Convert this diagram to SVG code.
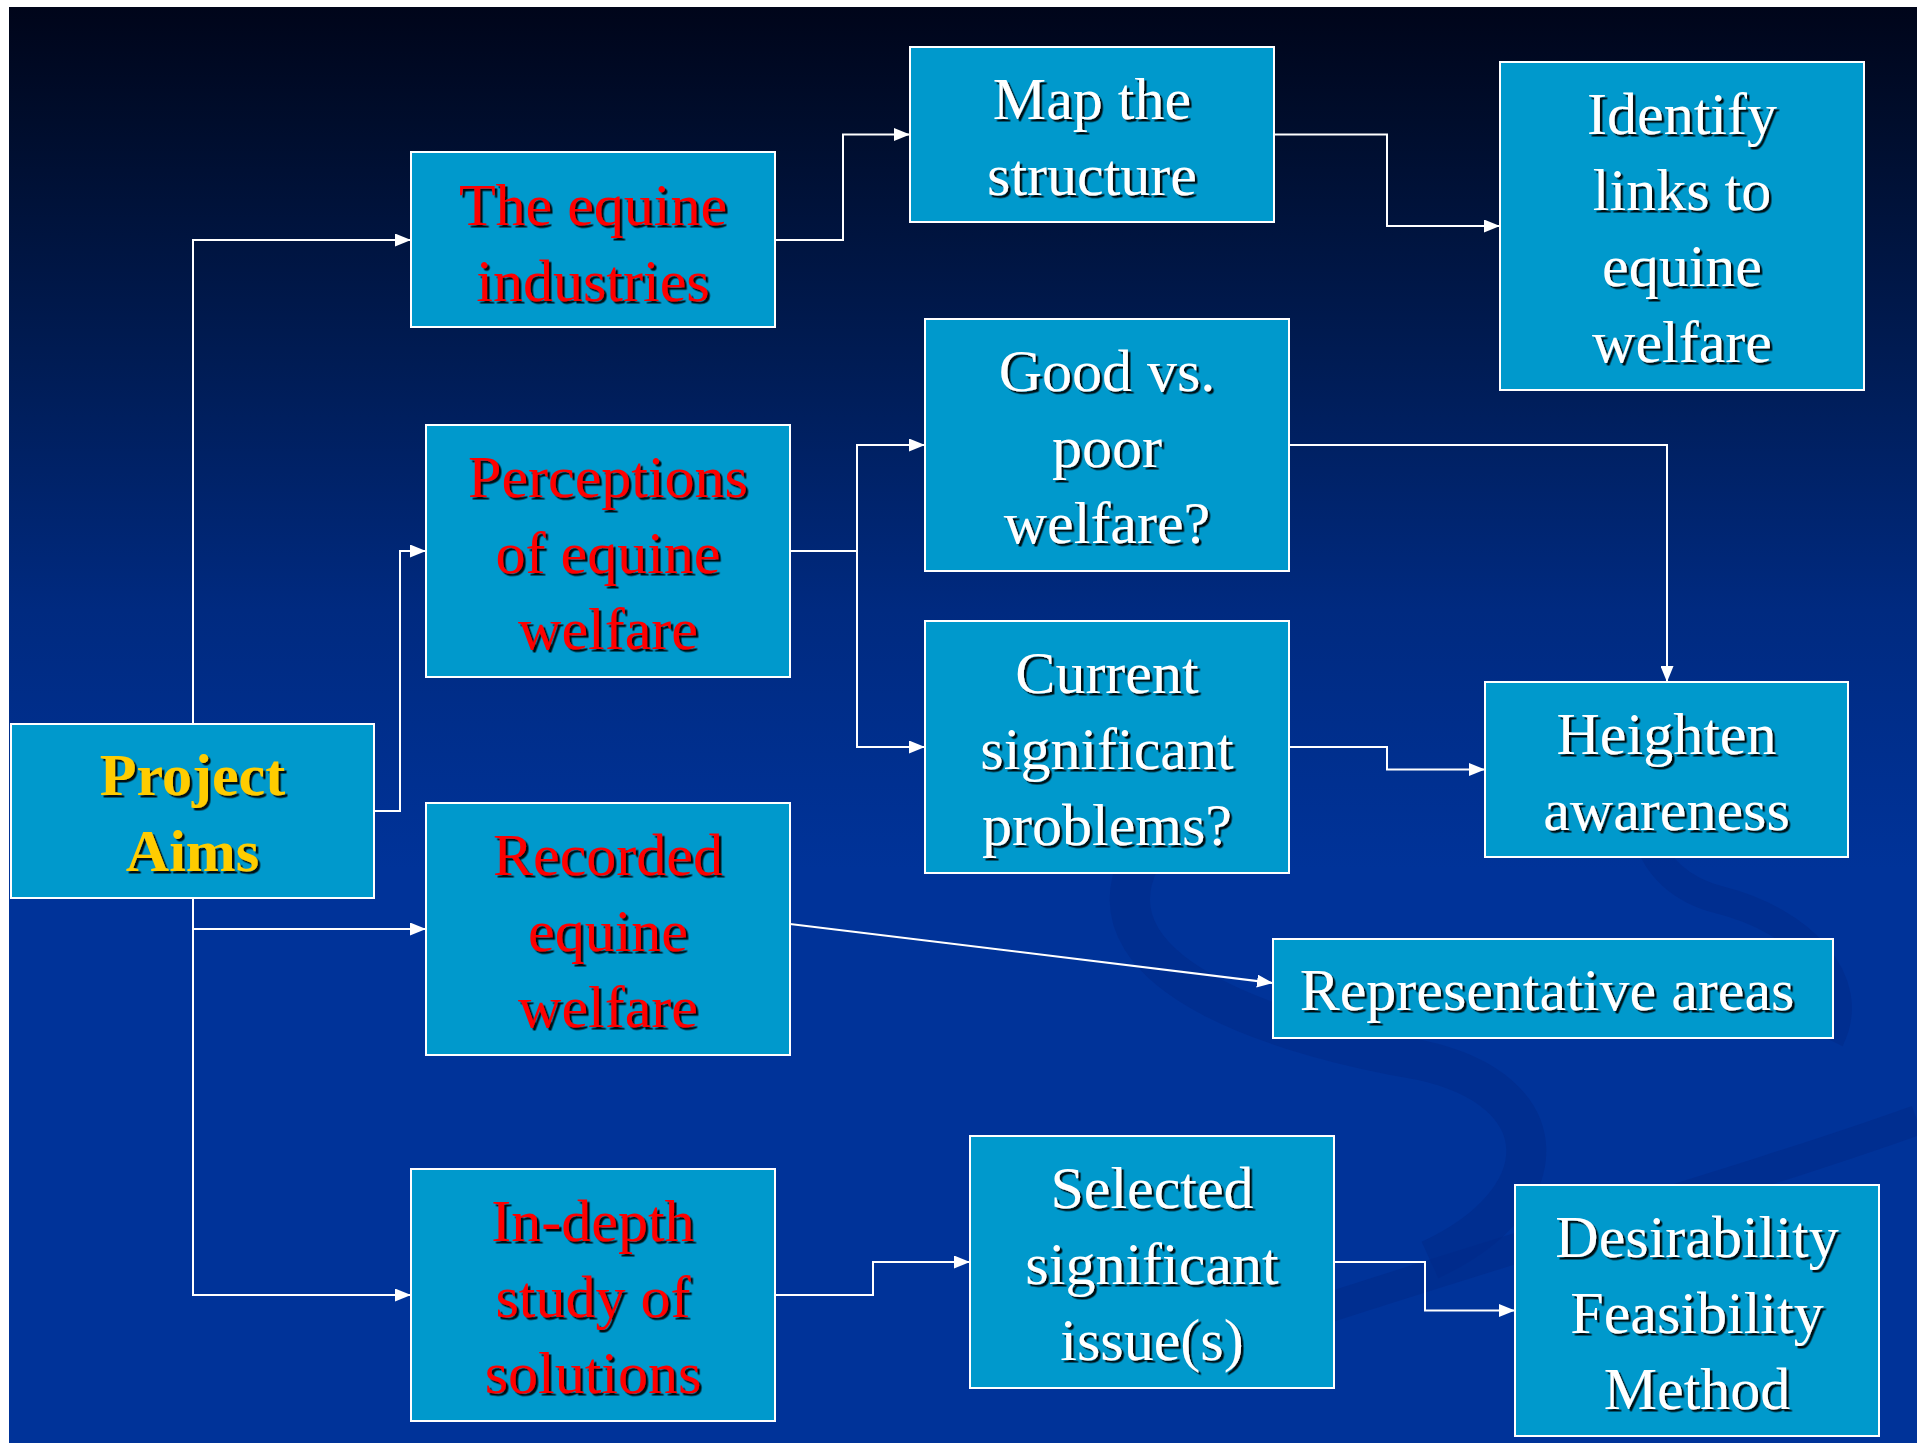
<svg xmlns="http://www.w3.org/2000/svg" width="1917" height="1443" viewBox="0 0 1917 1443">
<defs>
<linearGradient id="bg" x1="0" y1="0" x2="0" y2="1">
<stop offset="0" stop-color="#00051a"/>
<stop offset="0.08" stop-color="#000d2c"/>
<stop offset="0.25" stop-color="#001c55"/>
<stop offset="0.42" stop-color="#002a80"/>
<stop offset="0.6" stop-color="#003399"/>
<stop offset="1" stop-color="#003399"/>
</linearGradient>
<filter id="sh" x="-10%" y="-20%" width="130%" height="150%">
<feDropShadow dx="2.5" dy="2.5" stdDeviation="0.6" flood-color="#000000" flood-opacity="0.9"/>
</filter>
<marker id="arr" markerUnits="userSpaceOnUse" markerWidth="16" markerHeight="13" refX="16" refY="6.5" orient="auto">
<path d="M0,0 L16,6.5 L0,13 z" fill="#ffffff"/>
</marker>
</defs>
<style>
.box{fill:#0099cc;stroke:#ffffff;stroke-width:2}
.t{font-family:"Liberation Serif","Times New Roman",serif;font-size:60px;text-anchor:middle;filter:url(#sh)}
.w{fill:#ffffff}
.r{fill:#ff0000}
.y{fill:#ffcc00;font-weight:bold}
.c{fill:none;stroke:#ffffff;stroke-width:2}
.sw{fill:none;stroke:#002a88;stroke-opacity:0.55}
</style>
<rect x="0" y="0" width="1917" height="1443" fill="#ffffff"/>
<rect x="9" y="7" width="1908" height="1436" fill="url(#bg)"/>
<g id="swirls">
<path class="sw" stroke-width="40" d="M1140,860 C1080,980 1300,1040 1420,1060 C1560,1090 1560,1200 1430,1260"/>
<path class="sw" stroke-width="28" d="M1690,760 C1620,800 1640,880 1720,900 C1800,920 1860,980 1830,1040"/>
<path class="sw" stroke-width="30" d="M1260,1330 C1500,1250 1750,1180 1917,1120"/>
</g>
<g id="connectors">
<polyline class="c" points="193,724 193,240 411,240" marker-end="url(#arr)"/>
<polyline class="c" points="374,811 400,811 400,551 426,551" marker-end="url(#arr)"/>
<polyline class="c" points="193,898 193,929 426,929" marker-end="url(#arr)"/>
<polyline class="c" points="193,929 193,1295 411,1295" marker-end="url(#arr)"/>
<polyline class="c" points="775,240 843,240 843,134.5 910,134.5" marker-end="url(#arr)"/>
<polyline class="c" points="1274,134.5 1387,134.5 1387,226 1500,226" marker-end="url(#arr)"/>
<polyline class="c" points="790,551 857,551 857,445 925,445" marker-end="url(#arr)"/>
<polyline class="c" points="857,551 857,747 925,747" marker-end="url(#arr)"/>
<polyline class="c" points="1289,445 1667,445 1667,682" marker-end="url(#arr)"/>
<polyline class="c" points="1289,747 1387,747 1387,769.5 1485,769.5" marker-end="url(#arr)"/>
<line class="c" x1="790" y1="924" x2="1273" y2="983" marker-end="url(#arr)"/>
<polyline class="c" points="775,1295 873,1295 873,1262 970,1262" marker-end="url(#arr)"/>
<polyline class="c" points="1334,1262 1425,1262 1425,1310.5 1515,1310.5" marker-end="url(#arr)"/>
</g>
<g id="project-aims">
<rect class="box" x="11" y="724" width="363" height="174"/>
<text class="t y" x="192.5" y="795">Project</text>
<text class="t y" x="192.5" y="871">Aims</text>
</g>
<g id="equine-industries">
<rect class="box" x="411" y="152" width="364" height="175"/>
<text class="t r" x="593" y="225">The equine</text>
<text class="t r" x="593" y="301">industries</text>
</g>
<g id="perceptions">
<rect class="box" x="426" y="425" width="364" height="252"/>
<text class="t r" x="608" y="497">Perceptions</text>
<text class="t r" x="608" y="573">of equine</text>
<text class="t r" x="608" y="649">welfare</text>
</g>
<g id="recorded">
<rect class="box" x="426" y="803" width="364" height="252"/>
<text class="t r" x="608" y="875">Recorded</text>
<text class="t r" x="608" y="951">equine</text>
<text class="t r" x="608" y="1027">welfare</text>
</g>
<g id="in-depth">
<rect class="box" x="411" y="1169" width="364" height="252"/>
<text class="t r" x="593" y="1241">In-depth</text>
<text class="t r" x="593" y="1317">study of</text>
<text class="t r" x="593" y="1393">solutions</text>
</g>
<g id="map-structure">
<rect class="box" x="910" y="47" width="364" height="175"/>
<text class="t w" x="1092" y="119">Map the</text>
<text class="t w" x="1092" y="195">structure</text>
</g>
<g id="good-poor">
<rect class="box" x="925" y="319" width="364" height="252"/>
<text class="t w" x="1107" y="391">Good vs.</text>
<text class="t w" x="1107" y="467">poor</text>
<text class="t w" x="1107" y="543">welfare?</text>
</g>
<g id="current-problems">
<rect class="box" x="925" y="621" width="364" height="252"/>
<text class="t w" x="1107" y="693">Current</text>
<text class="t w" x="1107" y="769">significant</text>
<text class="t w" x="1107" y="845">problems?</text>
</g>
<g id="identify-links">
<rect class="box" x="1500" y="62" width="364" height="328"/>
<text class="t w" x="1682" y="134">Identify</text>
<text class="t w" x="1682" y="210">links to</text>
<text class="t w" x="1682" y="286">equine</text>
<text class="t w" x="1682" y="362">welfare</text>
</g>
<g id="heighten">
<rect class="box" x="1485" y="682" width="363" height="175"/>
<text class="t w" x="1666.5" y="754">Heighten</text>
<text class="t w" x="1666.5" y="830">awareness</text>
</g>
<g id="representative">
<rect class="box" x="1273" y="939" width="560" height="99"/>
<text class="t w" x="1547" y="1010">Representative areas</text>
</g>
<g id="selected">
<rect class="box" x="970" y="1136" width="364" height="252"/>
<text class="t w" x="1152" y="1208">Selected</text>
<text class="t w" x="1152" y="1284">significant</text>
<text class="t w" x="1152" y="1360">issue(s)</text>
</g>
<g id="desirability">
<rect class="box" x="1515" y="1185" width="364" height="251"/>
<text class="t w" x="1697" y="1257">Desirability</text>
<text class="t w" x="1697" y="1333">Feasibility</text>
<text class="t w" x="1697" y="1409">Method</text>
</g>
</svg>
